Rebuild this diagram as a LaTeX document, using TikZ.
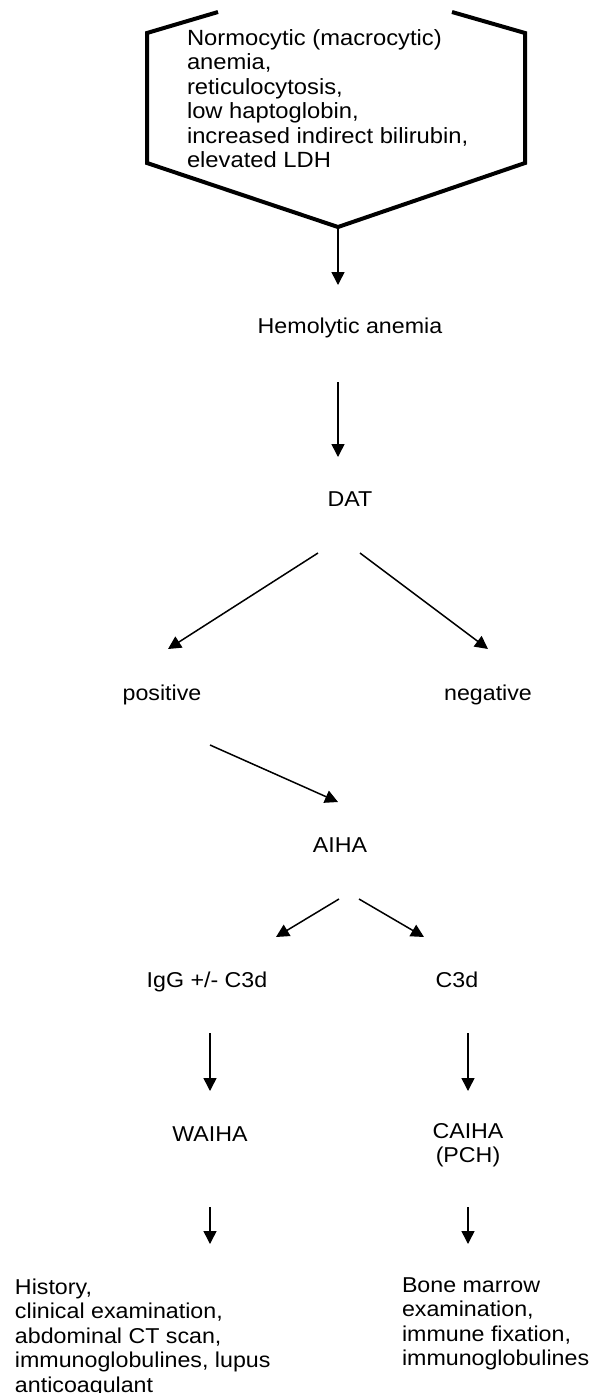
\documentclass[tikz,border=0pt]{standalone}
\usepackage{fontspec}
\setmainfont{Liberation Sans}[FakeStretch=1.08]
\usetikzlibrary{arrows.meta,calc}
\tikzset{
  txt/.style={inner sep=0pt, outer sep=0pt, font=\fontsize{21.5}{24.5}\selectfont, anchor=base},
  lft/.style={txt, anchor=base west},
  arr/.style={line width=1.5pt, -{Triangle[length=13pt,width=13pt]}},
  hexline/.style={line width=4pt, line join=miter}
}
\begin{document}
\begin{tikzpicture}[x=1pt,y=-1pt]
\useasboundingbox[fill=white] (0,0) rectangle (603,1393);
% hexagon (top cut off)
\coordinate (h1) at (218,12);
\coordinate (h2) at (147,33);
\coordinate (h3) at (147,163);
\coordinate (hexb) at (338,227);
\coordinate (h5) at (525,163);
\coordinate (h6) at (525,33);
\coordinate (h7) at (452,12);
\draw[hexline] (h1) -- (h2) -- (h3) -- (hexb) -- (h5) -- (h6) -- (h7);
\node[lft, font=\fontsize{22}{24.5}\selectfont] (hex) at (187,45) {\begin{tabular}[t]{@{}l@{}}Normocytic (macrocytic)\\ anemia,\\ reticulocytosis,\\ low haptoglobin,\\ increased indirect bilirubin,\\ elevated LDH\end{tabular}};
\node[txt] (hemo) at (350,333) {Hemolytic anemia};
\node[txt] (dat) at (350,506) {DAT};
\node[txt] (pos) at (162,700) {positive};
\node[txt] (neg) at (488,700) {negative};
\node[txt] (aiha) at (340,852) {AIHA};
\node[txt] (igg) at (207,987) {IgG +/- C3d};
\node[txt] (c3d) at (457,987) {C3d};
\node[txt] (waiha) at (210,1141) {WAIHA};
\node[txt] (caiha) at (468,1138) {\begin{tabular}[t]{@{}c@{}}CAIHA\\ (PCH)\end{tabular}};
\node[lft] (hist) at (15,1294) {\begin{tabular}[t]{@{}l@{}}History,\\ clinical examination,\\ abdominal CT scan,\\ immunoglobulines, lupus\\ anticoagulant\end{tabular}};
\node[lft] (bone) at (402,1292) {\begin{tabular}[t]{@{}l@{}}Bone marrow\\ examination,\\ immune fixation,\\ immunoglobulines\end{tabular}};
% connectors
\draw[arr] (hexb) -- ($(hemo.base)+(-12,-48)$);
\draw[arr] ($(hemo.base)+(-12,49)$) -- ($(dat.base)+(-12,-49)$);
\draw[arr] ($(dat.base)+(-32,47)$) -- ($(pos.base)+(6,-51)$);
\draw[arr] ($(dat.base)+(10,47)$) -- ($(neg.base)+(0,-51)$);
\draw[arr] ($(pos.base)+(48,45)$) -- ($(aiha.base)+(-2,-50)$);
\draw[arr] ($(aiha.base)+(-1,47)$) -- ($(igg.base)+(69,-50)$);
\draw[arr] ($(aiha.base)+(19,47)$) -- ($(c3d.base)+(-33,-50)$);
\draw[arr] ($(igg.base)+(3,46)$) -- ($(waiha.base)+(0,-50)$);
\draw[arr] ($(c3d.base)+(11,46)$) -- ($(caiha.base)+(0,-47)$);
\draw[arr] ($(waiha.base)+(0,66)$) -- ($(hist.base west)+(195,-50)$);
\draw[arr] ($(caiha.base)+(0,69)$) -- ($(bone.base west)+(66,-48)$);
\end{tikzpicture}
\end{document}
